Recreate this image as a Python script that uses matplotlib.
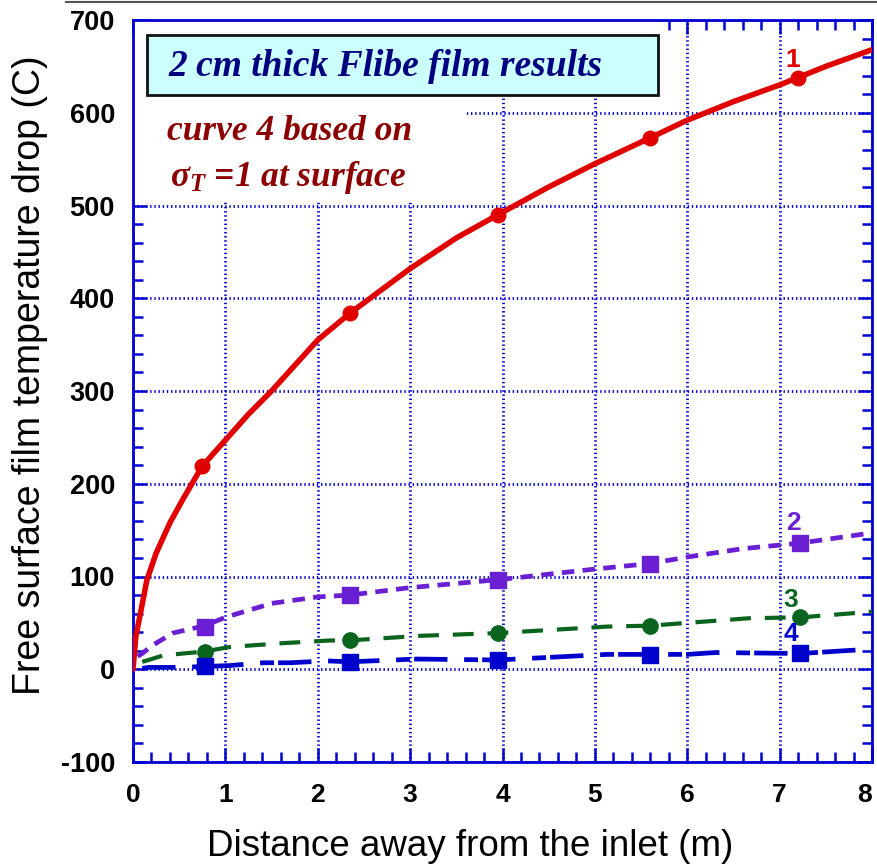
import matplotlib
matplotlib.use("Agg")
import matplotlib.pyplot as plt
from matplotlib.patches import Rectangle
from matplotlib.lines import Line2D
from matplotlib.ticker import MultipleLocator

plt.rcParams['lines.scale_dashes'] = False
plt.rcParams['axes.unicode_minus'] = False
plt.rcParams['mathtext.fontset'] = 'custom'
plt.rcParams['mathtext.it'] = 'Liberation Serif:italic:bold'
plt.rcParams['mathtext.rm'] = 'Liberation Serif:bold'

# ---- data ----
x1 = [0.0, 0.03, 0.08, 0.15, 0.25, 0.4, 0.55, 0.75, 1.0, 1.25, 1.5, 2.0, 2.35, 2.5, 3.0, 3.5, 3.95, 4.5, 5.0, 5.6, 6.0, 6.5, 7.0, 7.2, 7.5, 8.0]
y1 = [0, 35, 60, 96, 125, 158, 185, 219, 247, 275, 300, 355, 384, 395, 432, 465, 490, 520, 545, 573, 592, 612, 630, 638, 650, 668]
m1x = [0.75, 2.35, 3.95, 5.6, 7.2]
m1y = [219, 384, 490, 573, 638]

x2 = [0.05, 0.1, 0.2, 0.43, 0.78, 1.0, 1.5, 2.0, 2.35, 3.0, 4.0, 5.0, 5.6, 6.0, 6.6, 7.22, 8.0]
y2 = [14, 17, 25, 39, 47, 56, 71, 78, 80, 88, 97, 108, 114, 121, 130, 136, 147]
m2x = [0.78, 2.35, 3.95, 5.6, 7.22]
m2y = [46, 80, 96, 113, 136]

x3 = [0.1, 0.17, 0.33, 0.76, 1.05, 1.6, 2.13, 2.33, 3.1, 3.95, 5.13, 5.6, 6.0, 6.67, 7.23, 7.87, 8.0]
y3 = [8, 10, 15, 19, 24, 28, 31, 31, 36, 39, 46, 47, 50, 55, 56, 61, 62]
m3x = [0.78, 2.35, 3.95, 5.6, 7.22]
m3y = [19, 32, 39, 47, 56]

x4 = [0.1, 0.17, 0.5, 0.78, 1.05, 1.41, 1.7, 2.1, 2.35, 3.07, 3.95, 5.13, 6.0, 6.3, 7.23, 7.87, 8.0]
y4 = [1, 2, 2, 3, 4, 7, 7, 9, 8, 11, 10, 16, 16, 18, 17, 21, 21]
m4x = [0.78, 2.35, 3.95, 5.6, 7.22]
m4y = [3, 8, 10, 15, 17]

xticks = [0, 1, 2, 3, 4, 5, 6, 7, 8]
yticks = [-100, 0, 100, 200, 300, 400, 500, 600, 700]

title_box = "2 cm thick Flibe film results"
note1 = "curve 4 based on"
note2 = r"$\sigma_T$ =1 at surface"
xlabel = "Distance away from the inlet (m)"
ylabel = "Free surface film temperature drop (C)"

# ---- colours ----
RED = '#E00000'
PURPLE = '#6B1FD2'
GREEN = '#0A641E'
BLUE = '#0000CC'
AXBLUE = '#0000D0'

fig = plt.figure(figsize=(8.77, 8.64), dpi=100)
ax = fig.add_axes([133/877, 102/864, (872-133)/877, (762-20)/864])

ax.set_xlim(0, 8)
ax.set_ylim(-100, 700)
ax.set_xticks(xticks)
ax.set_yticks(yticks)
ax.xaxis.set_minor_locator(MultipleLocator(0.2))
ax.yaxis.set_minor_locator(MultipleLocator(20))

ax.set_axisbelow(True)
ax.grid(True, which='major', color=AXBLUE, linestyle=(0, (1, 2)), linewidth=2.0)

for s in ax.spines.values():
    s.set_color(AXBLUE)
    s.set_linewidth(2)

ax.tick_params(which='both', direction='in', top=True, right=True, color=AXBLUE, width=1.8)
ax.tick_params(which='major', length=10)
ax.tick_params(which='minor', length=7)
ax.tick_params(axis='y', pad=13)
ax.tick_params(axis='x', pad=15)

for lab in ax.get_xticklabels():
    lab.set_family('Liberation Sans')
    lab.set_fontweight('bold')
    lab.set_fontsize(19)
for lab in ax.get_yticklabels():
    lab.set_family('Liberation Sans')
    lab.set_fontweight('bold')
    lab.set_fontsize(19.5)
ax.get_xticklabels()[-1].set_horizontalalignment('right')

# white masks over the grid behind annotations
ax.add_patch(Rectangle((0, 505), 3.62, 195, facecolor='white', edgecolor='none', zorder=1))
ax.add_patch(Rectangle((0, 619), 5.66, 81, facecolor='white', edgecolor='none', zorder=1))
# cyan title box
ax.add_patch(Rectangle((0.15, 619), 5.53, 64.5, facecolor='#CCFFFF', edgecolor='#111111',
                       linewidth=2, zorder=2))

# curves
ax.plot(x1, y1, color=RED, linewidth=4.0, zorder=4, solid_capstyle='round')
ax.plot(m1x, m1y, 'o', color=RED, markersize=10.5, zorder=5)

l2, = ax.plot(x2, y2, color=PURPLE, linewidth=3.4, zorder=4)
l2.set_dashes((9, 6))
ax.plot(m2x, m2y, 's', color=PURPLE, markersize=12, zorder=5)

l3, = ax.plot(x3, y3, color=GREEN, linewidth=3.0, zorder=4)
l3.set_dashes((15, 10))
ax.plot(m3x, m3y, 'o', color=GREEN, markersize=11, zorder=5)

l4, = ax.plot(x4, y4, color=BLUE, linewidth=3.4, zorder=4)
l4.set_dashes((24, 12, 10, 3))
ax.plot(m4x, m4y, 's', color=BLUE, markersize=12, zorder=5)

# curve numbers
lblkw = dict(fontsize=19, fontweight='bold', family='Liberation Sans', ha='center', va='center', zorder=6)
ax.text(7.14, 657, '1', color=RED, **lblkw)
ax.text(7.15, 158, '2', color=PURPLE, **lblkw)
ax.text(7.12, 75, '3', color=GREEN, **lblkw)
ax.text(7.12, 38, '4', color=BLUE, **lblkw)

ax.text(0.38, 650, title_box, color='#000080', fontsize=27, family='Liberation Serif',
        fontweight='bold', style='italic', ha='left', va='center', zorder=3)
ax.text(0.37, 580, note1, color='#8B0000', fontsize=25.5, family='Liberation Serif',
        fontweight='bold', style='italic', ha='left', va='center', zorder=3)
ax.text(0.40, 530, note2, color='#8B0000', fontsize=25.5, family='Liberation Serif',
        fontweight='bold', style='italic', ha='left', va='center', zorder=3)

fig.text(470/877, 1 - 846/864, xlabel, fontsize=26.5, family='Liberation Sans',
         ha='center', va='center')
fig.text(30/877, 1 - 375/864, ylabel, fontsize=27, family='Liberation Sans',
         rotation=90, ha='center', va='center')

fig.add_artist(Line2D([66/877, 1.0], [1 - 1.5/864, 1 - 1.5/864], color='#555555',
                      linewidth=1.5, transform=fig.transFigure))

fig.savefig('out.png', dpi=100)
